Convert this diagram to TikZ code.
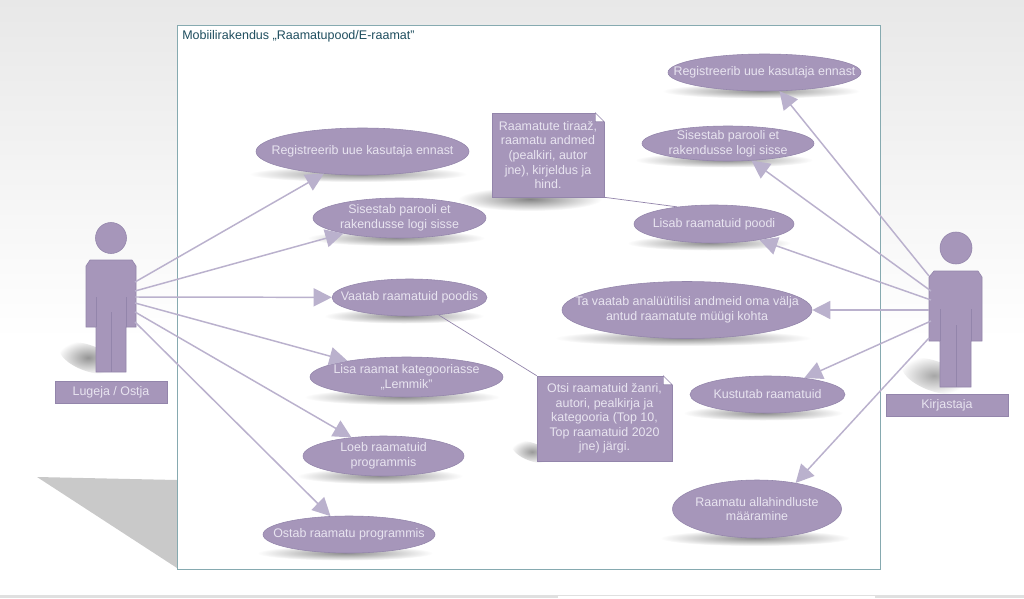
\documentclass[tikz,border=0pt]{standalone}
\usepackage{fontspec}
\setmainfont{Liberation Sans}
\usepackage{xcolor}
\usetikzlibrary{shapes.geometric, arrows.meta, positioning, calc}
\definecolor{usecasefill}{HTML}{A696BA}
\definecolor{usecaseline}{HTML}{9385AB}
\definecolor{usecasetext}{HTML}{E8E4F0}
\definecolor{flowcolor}{HTML}{BAB1CD}
\definecolor{framecolor}{HTML}{86AAB0}
\definecolor{titlecolor}{HTML}{1F4E5F}

\begin{document}
\begin{tikzpicture}[
  x=0.025cm, y=-0.025cm,
  usecase/.style 2 args={ellipse, minimum width=#1*0.025cm, minimum height=#2*0.025cm,
                inner sep=0pt, fill=usecasefill, draw=usecaseline, line width=0.4pt},
  casetext/.style={font=\fontsize{8.85}{10.4}\selectfont, text=usecasetext, align=center,
                inner sep=0pt},
  notebox/.style 2 args={rectangle, minimum width=#1*0.025cm, minimum height=#2*0.025cm,
                inner sep=0pt, fill=usecasefill, draw=usecaseline, line width=0.4pt,
                font=\fontsize{8.85}{10.4}\selectfont, text=usecasetext, align=center},
  actorbox/.style 2 args={rectangle, minimum width=#1*0.025cm, minimum height=#2*0.025cm,
                inner sep=0pt, fill=usecasefill, draw=usecaseline, line width=0.4pt,
                font=\fontsize{8.85}{10.4}\selectfont, text=usecasetext},
  softshadow/.style n args={3}{ellipse, minimum width=#1*0.025cm, minimum height=#2*0.025cm,
                inner sep=0pt, shading=radial, inner color=black!#3, outer color=white},
  flow/.style={-{Triangle[length=0.45cm, width=0.45cm]}, line width=1.05pt, color=flowcolor},
  notelink/.style={line width=0.5pt, color=usecaseline},
  actorbody/.style={fill=usecasefill, draw=usecaseline, line width=0.4pt},
  actorline/.style={draw=usecaseline, line width=0.5pt}
]
\useasboundingbox (0,0) rectangle (1024,598);

% Page background
\shade[top color=black!9, bottom color=white] (0,0) rectangle (1024,340);
\fill[black!12] (0,595) rectangle (1024,598);
\fill[white] (558,596) rectangle (875,598);
\fill[black!21] (37,477) -- (177,480) -- (177,568) -- cycle;

% System frame
\node[draw=framecolor, fill=white, line width=0.6pt, minimum width=703*0.025cm,
      minimum height=544*0.025cm, inner sep=0pt] (frame) at (528.5,297) {};
\node[font=\fontsize{8.9}{10.4}\selectfont, text=titlecolor, anchor=west, inner sep=0pt]
      (title) at (182,36) {Mobiilirakendus „Raamatupood/E-raamat”};

% Shadows
\node[softshadow={218}{16}{45}] (sh1) at (358,174) {};
\node[softshadow={178}{16}{45}] (sh2) at (396,238) {};
\node[softshadow={160}{15}{45}] (sh3) at (404,316) {};
\node[softshadow={196}{16}{45}] (sh4) at (402,397) {};
\node[softshadow={166}{16}{45}] (sh5) at (380,476) {};
\node[softshadow={176}{15}{45}] (sh6) at (345,553) {};
\node[softshadow={198}{15}{45}] (sh7) at (761,91) {};
\node[softshadow={178}{15}{45}] (sh8) at (724,160) {};
\node[softshadow={164}{15}{45}] (sh9) at (709,243) {};
\node[softshadow={256}{16}{45}] (sh10) at (683,338) {};
\node[softshadow={160}{15}{45}] (sh11) at (763,413) {};
\node[softshadow={190}{16}{45}] (sh12) at (755,538) {};
\node[softshadow={144}{24}{48}] (sh13) at (530,199) {};
\node[softshadow={42}{18}{40}, rotate=-20] (sh14) at (532,452) {};
\node[softshadow={60}{26}{42}, rotate=-20] (sh15) at (88,358) {};
\node[softshadow={68}{30}{35}, rotate=-20] (sh16) at (934,376) {};

% Reader actor
\node[circle, minimum size=31*0.025cm, inner sep=0pt, fill=usecasefill,
      draw=usecaseline, line width=0.4pt] (readerhead) at (111,238) {};
\draw[actorbody] (90,260) -- (132,260) -- (136,266) -- (136,327) -- (126,327) -- (126,372)
      -- (96,372) -- (96,327) -- (86,327) -- (86,266) -- cycle;
\draw[actorline] (96,297) -- (96,327) (126,297) -- (126,327) (111,312) -- (111,372);
\node[actorbox={112}{22}] (readerlabel) at (111,392) {Lugeja / Ostja};
\coordinate (reader1) at (135,282);
\coordinate (reader2) at (135,291);
\coordinate (reader3) at (135,297);
\coordinate (reader4) at (135,303);
\coordinate (reader5) at (135,312);
\coordinate (reader6) at (135,322);

% Writer actor
\node[circle, minimum size=32*0.025cm, inner sep=0pt, fill=usecasefill,
      draw=usecaseline, line width=0.4pt] (writerhead) at (956,248) {};
\draw[actorbody] (934,271) -- (978,271) -- (982,277) -- (982,341) -- (971,341) -- (971,387)
      -- (940,387) -- (940,341) -- (929,341) -- (929,277) -- cycle;
\draw[actorline] (940,309) -- (940,341) (971,309) -- (971,341) (956,325) -- (956,387);
\node[actorbox={122}{22}] (writerlabel) at (947,405) {Kirjastaja};
\coordinate (writer1) at (929,276);
\coordinate (writer2) at (931,291);
\coordinate (writer3) at (931,300);
\coordinate (writer4) at (929,310);
\coordinate (writer5) at (931,321);
\coordinate (writer6) at (929,338);

% Reader use cases
\node[usecase={213}{47}, label={[casetext]center:Registreerib uue kasutaja ennast}]
      (registerA) at (362.5,151.5) {};
\node[usecase={173}{40}, label={[casetext]center:{Sisestab parooli et\\rakendusse logi sisse}}]
      (loginA) at (399.5,218) {};
\node[usecase={155}{37}, label={[casetext]center:Vaatab raamatuid poodis}]
      (browse) at (409.5,297.5) {};
\node[usecase={193}{40}, label={[casetext]center:{Lisa raamat kategooriasse\\„Lemmik”}}]
      (favourite) at (406.5,377) {};
\node[usecase={161}{40}, label={[casetext]center:{Loeb raamatuid\\programmis}}]
      (readbook) at (383.5,456) {};
\node[usecase={172}{37}, label={[casetext]center:Ostab raamatu programmis}]
      (buy) at (349,534.5) {};

% Writer use cases
\node[usecase={193}{37}, label={[casetext]center:Registreerib uue kasutaja ennast}]
      (registerB) at (764.5,72.5) {};
\node[usecase={172}{35}, label={[casetext]center:{Sisestab parooli et\\rakendusse logi sisse}}]
      (loginB) at (728,143.5) {};
\node[usecase={160}{38}, label={[casetext]center:Lisab raamatuid poodi}]
      (addbook) at (714,224) {};
\node[usecase={250}{57}, label={[casetext]center:{Ta vaatab analüütilisi andmeid oma välja\\antud raamatute müügi kohta}}]
      (stats) at (687,310) {};
\node[usecase={155}{37}, label={[casetext]center:Kustutab raamatuid}]
      (remove) at (767.5,394.5) {};
\node[usecase={169}{58}, label={[casetext]center:{Raamatu allahindluste\\määramine}}]
      (discount) at (757,509) {};

% Notes
\node[notebox={112}{84}] (noteA) at (548,155) {Raamatute tiraaž,\\raamatu andmed\\(pealkiri, autor\\jne), kirjeldus ja\\hind.};
\fill[white] ($(noteA.north east)+(-9,-0.5)$) rectangle ($(noteA.north east)+(0.5,9)$);
\draw[usecaseline, fill=white, line width=0.4pt] ($(noteA.north east)+(-9,0)$)
      -- ($(noteA.north east)+(0,9)$) -- ($(noteA.north east)+(-9,9)$) -- cycle;
\node[notebox={135}{85}] (noteB) at (604.5,418.5) {Otsi raamatuid žanri,\\autori, pealkirja ja\\kategooria (Top 10,\\Top raamatuid 2020\\jne) järgi.};
\fill[white] ($(noteB.north east)+(-9,-0.5)$) rectangle ($(noteB.north east)+(0.5,9)$);
\draw[usecaseline, fill=white, line width=0.4pt] ($(noteB.north east)+(-9,0)$)
      -- ($(noteB.north east)+(0,9)$) -- ($(noteB.north east)+(-9,9)$) -- cycle;

\draw[notelink] (noteA.south east) -- (addbook.155);
\draw[notelink] (noteB.north west) -- (browse.-31);

% Reader connectors
\draw[flow] (reader1) -- (registerA);
\draw[flow] (reader2) -- (loginA);
\draw[flow] (reader3) -- (browse);
\draw[flow] (reader4) -- (favourite);
\draw[flow] (reader5) -- (readbook);
\draw[flow] (reader6) -- (buy);

% Writer connectors
\draw[flow] (writer1) -- (registerB);
\draw[flow] (writer2) -- (loginB);
\draw[flow] (writer3) -- (addbook);
\draw[flow] (writer4) -- (stats);
\draw[flow] (writer5) -- (remove);
\draw[flow] (writer6) -- (discount.34);

\end{tikzpicture}
\end{document}
